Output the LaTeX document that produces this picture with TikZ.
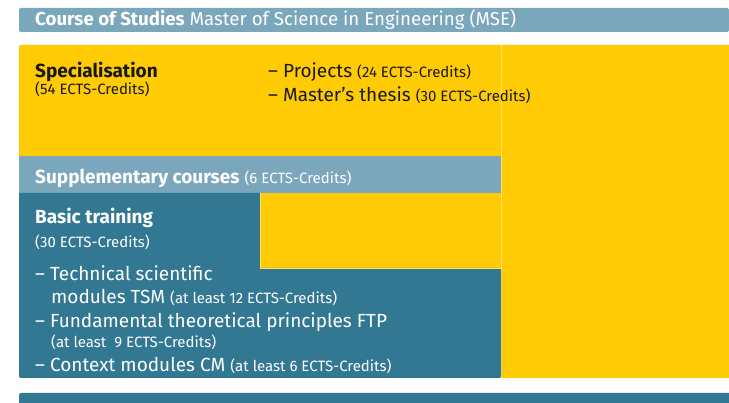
\documentclass[tikz,border=0pt]{standalone}
\usepackage{fontspec}
\setmainfont{Fira Sans}
\definecolor{yel}{RGB}{255,203,5}
\definecolor{lblue}{RGB}{123,167,188}
\definecolor{teal}{RGB}{50,120,146}
\definecolor{ink}{RGB}{25,25,25}
\tikzset{
  txt/.style={anchor=base west, inner sep=0pt, font=\fontsize{19}{22}\selectfont},
  small/.style={font=\fontsize{15}{18}\selectfont},
  hdr/.style={anchor=base west, inner sep=0pt, font=\fontsize{18.7}{22}\selectfont, white},
}
\newcommand{\sm}[1]{{\fontsize{15}{18}\selectfont #1}}
\begin{document}
\begin{tikzpicture}[x=1pt,y=-1pt]
\useasboundingbox (0,0) rectangle (729,403);
% header bar
\fill[lblue, rounded corners=2pt] (19,8) rectangle (729,32);
% yellow area
\fill[yel, rounded corners=2pt] (19,45) rectangle (740,378);
\fill[yel] (700,45) rectangle (729,378);
\draw[yel!60!white, line width=0.6pt] (501,45) -- (501,378);
% supplementary bar
\fill[lblue] (19,156) rectangle (501,193);
% basic training
\fill[teal, rounded corners=2pt] (19,200) |- (501,378) -- (501,268) -- (260,268) -- (260,193) -- (19,193) -- cycle;
\fill[teal] (19,193) rectangle (260,210);
\draw[yel!60!white, line width=0.5pt] (260,193) -- (260,268) -- (501,268);
% bottom bar
\fill[teal, rounded corners=2pt] (19,393) rectangle (740,420);

\node[hdr] (hd) at (35,26) {\textbf{Course of Studies} Master of Science in Engineering (MSE)};
\node[txt, ink] (sp) at (35,78) {\textbf{Specialisation}};
\node[txt, small, ink] (spc) at (35,95) {(54 ECTS-Credits)};
\node[txt, ink] (pr) at (268,78) {– Projects \sm{(24 ECTS-Credits)}};
\node[txt, ink] (mt) at (268,102) {– Master’s thesis \sm{(30 ECTS-Credits)}};
\node[txt, white] (su) at (35,184) {\textbf{Supplementary courses} \sm{(6 ECTS-Credits)}};
\node[txt, white] (bt) at (35,224) {\textbf{Basic training}};
\node[txt, small, white] (btc) at (35,248) {(30 ECTS-Credits)};
\node[txt, white] (t1) at (35,281) {– Technical scientific};
\node[txt, white] (t2) at (51,304) {modules TSM \sm{(at least 12 ECTS-Credits)}};
\node[txt, white] (f1) at (35,328) {– Fundamental theoretical principles FTP};
\node[txt, small, white] (f2) at (51,348) {(at least\ \ 9 ECTS-Credits)};
\node[txt, white] (cm) at (35,372) {– Context modules CM \sm{(at least 6 ECTS-Credits)}};
\end{tikzpicture}
\end{document}
